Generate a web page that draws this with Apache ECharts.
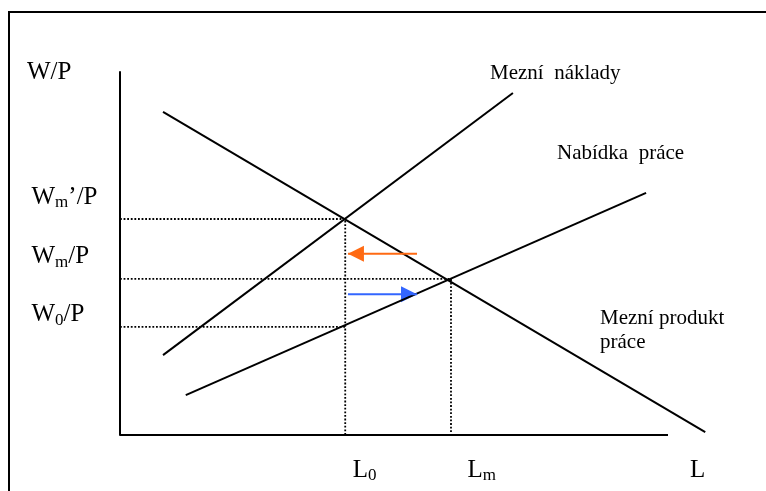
<!DOCTYPE html>
<html>
<head>
<meta charset="utf-8">
<script src="https://cdn.jsdelivr.net/npm/echarts@6/dist/echarts.min.js"></script>
<style>
  html, body { margin: 0; padding: 0; background: #fff; }
  #chart { width: 766px; height: 491px; }
</style>
</head>
<body>
<div id="chart"></div>
<script>
// Labour market diagram: marginal product of labour, labour supply, marginal cost.
// The L axis is drawn from 0 to 100; the plot area runs a little further so the
// marginal product line can continue past the end of the axis.

// Employment levels on the L axis
const laborValues = [41.1, 60.4];
const laborLabels = ['{m|L}{s|0}', '{m|L}{s|m}'];

// Real wage levels on the W/P axis: W_m'/P, W_m/P, W_0/P
const wageValues = [59.5, 43.0, 29.8];
const wageLabels = ['{m|W}{s|m}{m|’/P}', '{m|W}{s|m}{m|/P}', '{m|W}{s|0}{m|/P}'];

// Curves (end points of straight lines)
const marginalProduct = [[7.85, 89.0], [106.8, 0.8]];
const marginalCost = [[7.85, 22.0], [71.7, 94.2]];
const laborSupply = [[12.0, 11.0], [96.0, 66.7]];

// Shift arrows (tail, tip)
const wageArrow = [[54.2, 49.9], [41.6, 49.9]];
const laborArrow = [[41.6, 38.8], [54.2, 38.8]];

// Extent of the drawn L axis
const lAxisLine = [[0, 0], [100, 0]];

const FONT = '"Liberation Serif", "Times New Roman", serif';
const [L0, Lm] = laborValues;
const [Wmp, Wm, W0] = wageValues;

// Dotted guides from the axes to the equilibria
const guides = [
  [[0, Wmp], [L0, Wmp], [L0, 0]],
  [[0, Wm], [Lm, Wm], [Lm, 0]],
  [[0, W0], [L0, W0]]
];

const richTick = {
  m: { fontFamily: FONT, fontSize: 25, color: '#000', verticalAlign: 'bottom', padding: [0, 0, 2, 0] },
  s: { fontFamily: FONT, fontSize: 17, color: '#000', verticalAlign: 'bottom' }
};

const series = [];

guides.forEach(g => series.push({
  type: 'line', data: g, symbol: 'none', silent: true,
  lineStyle: { color: '#000', width: 1.8, type: [1.8, 1.8] }
}));

[lAxisLine, marginalProduct, marginalCost, laborSupply].forEach(c => series.push({
  type: 'line', data: c, symbol: 'none', silent: true,
  lineStyle: { color: '#000', width: 2 }
}));

// Arrow: shaft as a line, head as a triangle whose tip sits on the end point
function arrow(coords, color) {
  const [tail, tip] = coords;
  const dir = Math.sign(tip[0] - tail[0]);
  return [
    { type: 'line', data: coords, symbol: 'none', silent: true,
      lineStyle: { color, width: 2 } },
    { type: 'scatter', data: [tip], silent: true, symbol: 'triangle',
      symbolSize: [16, 16], symbolRotate: dir > 0 ? -90 : 90,
      symbolOffset: [-dir * 8, 0], itemStyle: { color, opacity: 1 } }
  ];
}
series.push(...arrow(wageArrow, '#ff6a13'));
series.push(...arrow(laborArrow, '#3366ff'));

// Invisible anchor points carrying the axis tick labels
function tickLabels(points, texts, offsets) {
  return {
    type: 'scatter', symbolSize: 1, clip: false, silent: true,
    itemStyle: { color: 'rgba(0,0,0,0)', opacity: 1 },
    data: points.map((p, i) => ({
      value: p,
      label: {
        show: true, position: 'left', distance: 0, align: 'left', verticalAlign: 'middle',
        color: '#000', opacity: 1, textBorderWidth: 0,
        offset: offsets[i], formatter: texts[i], rich: richTick
      }
    }))
  };
}
series.push(tickLabels(wageValues.map(w => [0, w]), wageLabels, [[-88, -21], [-88, -21], [-88, -11]]));
series.push(tickLabels(laborValues.map(l => [l, 0]), laborLabels, [[8, 36], [17, 36]]));

const hidden = { axisTick: { show: false }, axisLabel: { show: false }, splitLine: { show: false } };

function txt(text, x, baseline, size) {
  return {
    type: 'text', silent: true,
    style: { text, x, y: baseline - 0.3 * size, font: size + 'px ' + FONT, fill: '#000', verticalAlign: 'middle' }
  };
}

const chart = echarts.init(document.getElementById('chart'));
chart.setOption({
  animation: false,
  backgroundColor: '#fff',
  grid: { left: 120, top: 72, width: 602.8, height: 363 },
  xAxis: Object.assign({ type: 'value', min: 0, max: 110, axisLine: { show: false } }, hidden),
  yAxis: Object.assign({ type: 'value', min: 0, max: 100,
    axisLine: { show: true, lineStyle: { color: '#000', width: 2 } } }, hidden),
  series,
  graphic: [
    { type: 'rect', silent: true, shape: { x: 9, y: 12, width: 800, height: 520 },
      style: { fill: 'none', stroke: '#000', lineWidth: 2 } },
    txt('W/P', 27, 80, 25),
    txt('L', 690, 478, 25),
    txt('Mezní  náklady', 490, 80, 21),
    txt('Nabídka  práce', 557, 160, 21),
    txt('Mezní produkt', 600, 325, 21),
    txt('práce', 600, 349, 21)
  ]
});
</script>
</body>
</html>
